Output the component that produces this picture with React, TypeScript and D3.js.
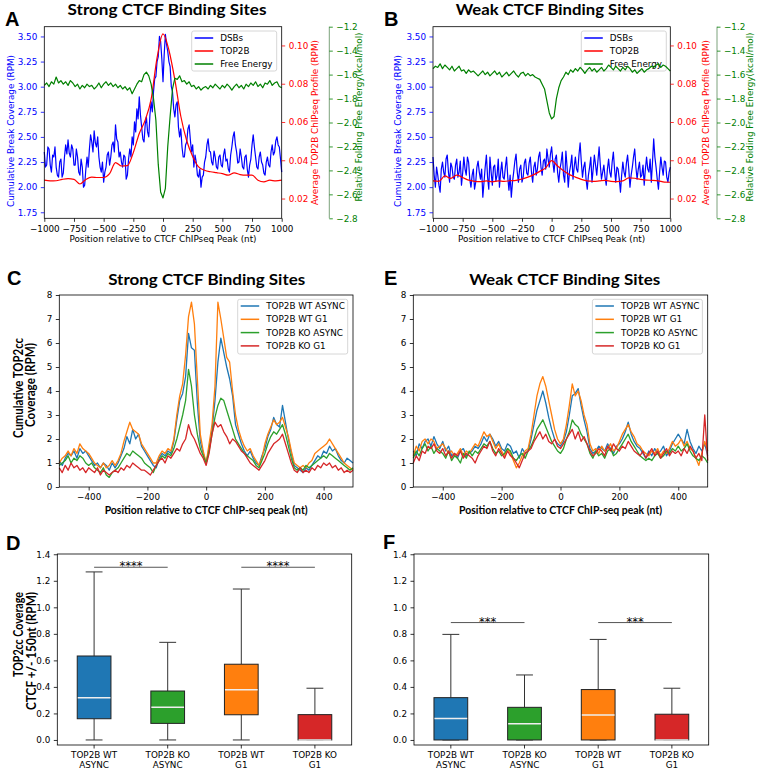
import React, { useEffect, useRef } from 'react';
import * as d3 from 'd3';

const W = 764;
const H = 777;

const MPL = "'DejaVu Sans', sans-serif";
const HEAD = "Lato, 'Open Sans', sans-serif";
const LETTER = "'Liberation Sans', Arial, sans-serif";

// ---- A / B : profiles around CTCF peaks
const profilePos = d3.range(-1000, 1001, 20);
const breakPos = d3.range(-1000, 1001, 10);
const chipPos = d3.range(-1000, 1001, 50);

const dsbStrong = [
  2.35, 2.20, 2.22, 2.40, 2.38, 2.22, 2.15, 2.32, 2.30, 2.40, 2.20, 2.12, 2.10, 2.25, 2.28, 2.10, 2.14, 2.30, 2.42, 2.33,
  2.47, 2.34, 2.30, 2.42, 2.38, 2.22, 2.22, 2.38, 2.30, 2.15, 2.12, 2.28, 2.20, 2.00, 2.02, 2.18, 2.30, 2.20, 2.38, 2.52,
  2.45, 2.35, 2.56, 2.44, 2.40, 2.50, 2.30, 2.20, 2.15, 2.25, 2.05, 2.15, 2.20, 2.32, 2.35, 2.22, 2.30, 2.42, 2.45, 2.35,
  2.62, 2.48, 2.45, 2.30, 2.35, 2.25, 2.20, 2.32, 2.30, 2.08, 2.12, 2.28, 2.38, 2.30, 2.50, 2.42, 2.65, 2.55, 2.78, 2.68,
  2.90, 2.72, 2.60, 2.48, 2.45, 2.62, 2.70, 2.55, 2.50, 2.72, 2.85, 2.75, 2.95, 3.08, 3.10, 3.25, 3.30, 3.50, 3.45, 3.28,
  3.05, 3.32, 3.52, 3.42, 3.35, 3.25, 3.20, 3.00, 2.95, 2.78, 2.70, 2.82, 2.85, 2.60, 2.50, 2.58, 2.40, 2.30, 2.30, 2.42,
  2.45, 2.58, 2.62, 2.48, 2.35, 2.42, 2.20, 2.32, 2.25, 2.12, 2.10, 2.18, 2.00, 2.10, 2.12, 2.25, 2.30, 2.42, 2.48, 2.36,
  2.35, 2.25, 2.22, 2.36, 2.30, 2.20, 2.18, 2.30, 2.32, 2.22, 2.20, 2.32, 2.38, 2.26, 2.28, 2.18, 2.15, 2.32, 2.40, 2.50,
  2.55, 2.42, 2.35, 2.24, 2.25, 2.38, 2.30, 2.20, 2.18, 2.30, 2.32, 2.18, 2.10, 2.22, 2.28, 2.42, 2.52, 2.40, 2.30, 2.20,
  2.18, 2.30, 2.35, 2.25, 2.22, 2.14, 2.12, 2.25, 2.30, 2.22, 2.20, 2.35, 2.42, 2.32, 2.35, 2.46, 2.50, 2.42, 2.40, 2.28,
  2.15,
];
const top2bStrong = [
  0.0296, 0.0292, 0.0293, 0.0300, 0.0304, 0.0300, 0.0276, 0.0300, 0.0312, 0.0310,
  0.0310, 0.0330, 0.0388, 0.0370, 0.0372, 0.0440, 0.0540, 0.0610, 0.0720, 0.0935,
  0.1060, 0.0975, 0.0820, 0.0630, 0.0502, 0.0420, 0.0365, 0.0348, 0.0340, 0.0335,
  0.0330, 0.0322, 0.0334, 0.0325, 0.0322, 0.0322, 0.0296, 0.0287, 0.0296, 0.0292,
  0.0296,
];
const freeEnergyStrong = [
  -1.69, -1.67, -1.70, -1.66, -1.68, -1.62, -1.67, -1.65, -1.68, -1.66,
  -1.69, -1.65, -1.67, -1.70, -1.68, -1.72, -1.69, -1.71, -1.68, -1.70,
  -1.69, -1.72, -1.70, -1.67, -1.71, -1.68, -1.66, -1.69, -1.67, -1.70,
  -1.68, -1.71, -1.69, -1.72, -1.70, -1.73, -1.71, -1.76, -1.72, -1.68,
  -1.65, -1.66, -1.60, -1.58, -1.61, -1.68, -1.80, -1.98, -2.35, -2.58,
  -2.63, -2.55, -2.20, -1.95, -1.72, -1.63, -1.64, -1.61, -1.66, -1.65,
  -1.68, -1.66, -1.70, -1.69, -1.72, -1.70, -1.73, -1.71, -1.70, -1.72,
  -1.69, -1.71, -1.68, -1.70, -1.72, -1.69, -1.71, -1.68, -1.70, -1.73,
  -1.70, -1.68, -1.71, -1.69, -1.72, -1.68, -1.70, -1.67, -1.69, -1.66,
  -1.70, -1.68, -1.71, -1.67, -1.68, -1.65, -1.69, -1.67, -1.66, -1.70,
  -1.71,
];
const dsbWeak = [
  2.30, 2.12, 2.00, 2.20, 2.12, 2.02, 1.95, 2.18, 2.25, 2.15, 2.10, 2.28, 2.32, 2.15, 2.05, 2.24, 2.20, 2.10, 2.08, 2.22,
  2.28, 2.10, 2.15, 2.26, 2.02, 2.14, 2.30, 2.18, 2.12, 2.30, 2.25, 2.08, 2.00, 2.12, 2.18, 1.98, 2.05, 2.20, 2.26, 2.15,
  2.08, 2.18, 1.90, 2.05, 2.20, 2.32, 2.10, 1.98, 2.30, 2.15, 2.02, 2.20, 2.22, 2.06, 2.12, 2.28, 2.00, 2.15, 2.25, 2.10,
  2.08, 2.20, 2.30, 2.10, 1.97, 2.12, 1.90, 2.05, 2.15, 2.26, 2.33, 2.15, 2.05, 2.18, 2.22, 2.05, 2.10, 2.24, 2.28, 2.14,
  2.12, 2.24, 2.30, 2.15, 2.05, 2.20, 2.25, 2.12, 2.18, 2.30, 2.35, 2.20, 2.12, 2.26, 2.28, 2.18, 2.38, 2.28, 2.20, 2.33,
  2.40, 2.25, 2.15, 2.28, 2.32, 2.15, 2.05, 2.18, 2.25, 2.35, 2.12, 2.05, 2.36, 2.20, 2.00, 2.15, 2.22, 2.32, 2.08, 2.20,
  2.30, 2.18, 2.15, 2.32, 2.44, 2.25, 2.10, 2.20, 2.25, 2.08, 1.98, 2.12, 2.20, 2.30, 2.05, 2.18, 2.32, 2.22, 2.12, 2.26,
  2.40, 2.22, 2.08, 2.15, 2.22, 2.10, 2.02, 2.18, 2.28, 2.15, 2.10, 2.25, 2.35, 2.18, 2.05, 2.20, 2.18, 2.08, 1.95, 2.12,
  2.25, 2.15, 2.10, 2.24, 2.32, 2.18, 2.00, 2.12, 2.20, 2.30, 2.38, 2.20, 2.08, 2.18, 2.25, 2.10, 2.12, 2.22, 2.02, 2.18,
  2.30, 2.18, 2.15, 2.28, 2.05, 2.25, 2.48, 2.30, 2.20, 2.08, 1.98, 2.15, 2.30, 2.20, 2.12, 2.26, 2.25, 2.10, 2.05, 2.15,
  2.20,
];
const top2bWeak = [
  0.0292, 0.0290, 0.0318, 0.0305, 0.0322, 0.0310, 0.0296, 0.0290, 0.0288, 0.0292,
  0.0287, 0.0292, 0.0290, 0.0293, 0.0295, 0.0302, 0.0312, 0.0325, 0.0342, 0.0360,
  0.0398, 0.0370, 0.0345, 0.0325, 0.0312, 0.0300, 0.0292, 0.0290, 0.0292, 0.0295,
  0.0290, 0.0288, 0.0292, 0.0308, 0.0306, 0.0300, 0.0296, 0.0295, 0.0292, 0.0286,
  0.0285,
];
const freeEnergyWeak = [
  -1.55, -1.53, -1.54, -1.51, -1.55, -1.52, -1.54, -1.56, -1.53, -1.57,
  -1.55, -1.53, -1.57, -1.56, -1.59, -1.56, -1.58, -1.57, -1.59, -1.61,
  -1.59, -1.57, -1.60, -1.58, -1.61, -1.59, -1.57, -1.60, -1.58, -1.62,
  -1.60, -1.58, -1.61, -1.59, -1.57, -1.60, -1.62, -1.59, -1.58, -1.61,
  -1.59, -1.61, -1.60, -1.62, -1.63, -1.64, -1.68, -1.72, -1.82, -1.92,
  -1.97, -1.95, -1.80, -1.71, -1.65, -1.62, -1.58, -1.60, -1.56, -1.58,
  -1.55, -1.57, -1.54, -1.56, -1.59, -1.56, -1.54, -1.57, -1.55, -1.58,
  -1.56, -1.54, -1.57, -1.55, -1.52, -1.54, -1.56, -1.53, -1.55, -1.57,
  -1.54, -1.56, -1.53, -1.55, -1.58, -1.56, -1.59, -1.57, -1.55, -1.58,
  -1.56, -1.55, -1.53, -1.54, -1.52, -1.51, -1.54, -1.52, -1.53, -1.55,
  -1.57,
];

const profileXTicks = [-1000, -750, -500, -250, 0, 250, 500, 750, 1000];
const breakTicks = [1.75, 2.0, 2.25, 2.5, 2.75, 3.0, 3.25, 3.5];
const chipTicks = [0.02, 0.04, 0.06, 0.08, 0.1];
const energyTicks = [-2.8, -2.6, -2.4, -2.2, -2.0, -1.8, -1.6, -1.4, -1.2];
const profileLegend = ['DSBs', 'TOP2B', 'Free Energy'];
const profileColors = ['#0000ff', '#ff0000', '#008000'];

// ---- C / E : TOP2cc coverage
const top2ccPos = d3.range(-500, 501, 10);
const seriesNames = ['TOP2B WT ASYNC', 'TOP2B WT G1', 'TOP2B KO ASYNC', 'TOP2B KO G1'];
const seriesColors = ['#1f77b4', '#ff7f0e', '#2ca02c', '#d62728'];

const wtAsyncStrong = [
  1.1, 0.9, 1.2, 1.4, 1.3, 1.5, 1.2, 1.6, 1.4, 1.5,
  1.3, 1.1, 0.9, 1.0, 0.8, 1.0, 0.9, 0.7, 1.0, 0.8,
  1.0, 1.3, 1.6, 2.1, 1.8, 2.4, 2.0, 2.2, 1.7, 1.5,
  1.3, 1.1, 0.9, 0.8, 1.2, 1.4, 1.3, 1.5, 1.4, 1.9,
  2.8, 3.6, 3.9, 4.6, 6.4, 5.8, 5.7, 3.5, 1.9, 1.4,
  1.0, 1.6, 2.4, 3.6, 5.2, 6.2, 5.6, 5.0, 4.5, 3.8,
  2.6, 2.2, 1.8, 1.5, 1.3, 1.5, 1.2, 1.0, 0.9, 1.3,
  1.6, 2.1, 2.4, 2.9, 2.6, 2.5, 3.4, 2.7, 2.0, 1.4,
  0.9, 0.8, 0.7, 0.6, 0.8, 0.7, 0.9, 1.1, 1.3, 1.2,
  1.5, 1.4, 1.7, 1.5, 1.6, 1.3, 1.1, 1.0, 1.2, 1.1,
  1.0,
];
const wtG1Strong = [
  1.0, 1.2, 1.3, 1.5, 1.3, 1.6, 1.4, 1.8, 1.6, 1.5,
  1.4, 1.2, 1.0, 0.9, 0.8, 1.0, 0.8, 0.9, 1.1, 0.9,
  1.1, 1.4, 1.9, 2.3, 2.7, 2.4, 2.3, 2.2, 1.8, 1.6,
  1.4, 1.2, 1.0, 1.0, 1.3, 1.5, 1.4, 1.6, 1.5, 2.0,
  3.0, 3.8, 4.3, 5.5, 7.1, 7.7, 6.8, 4.5, 2.2, 1.5,
  1.0, 1.8, 2.6, 4.2, 7.7, 7.0, 6.2, 5.4, 5.2, 4.0,
  3.0, 2.4, 2.0, 1.7, 1.5, 1.6, 1.3, 1.1, 0.9, 1.2,
  1.8, 2.2, 2.5, 2.8, 2.6, 2.7, 2.9, 2.5, 2.1, 1.5,
  1.0, 0.9, 0.8, 0.9, 0.8, 1.0, 1.1, 1.4, 1.5, 1.6,
  1.7, 1.8, 2.0, 1.8, 1.6, 1.4, 1.2, 1.0, 0.9, 0.8,
  0.7,
];
const koAsyncStrong = [
  0.9, 1.0, 1.1, 1.3, 1.0, 1.2, 1.1, 1.3, 1.2, 1.0,
  0.9, 1.0, 0.8, 0.7, 0.6, 0.8, 0.5, 0.4, 0.6, 0.7,
  0.8, 1.0, 1.2, 1.4, 1.3, 1.5, 1.4, 1.3, 1.2, 1.0,
  0.9, 0.8, 0.6, 0.9, 1.1, 1.3, 1.2, 1.4, 1.3, 1.6,
  2.0, 2.5, 3.0, 3.6, 4.9, 4.2, 3.0, 2.2, 1.6, 1.3,
  1.0, 1.5, 2.2, 2.9, 3.4, 3.7, 3.6, 3.2, 2.8, 2.4,
  2.0, 1.8, 1.6, 1.4, 1.3, 1.2, 1.1, 0.9, 0.8, 1.1,
  1.4, 1.8, 2.1, 2.3, 2.2, 2.4, 2.6, 2.2, 1.7, 1.2,
  0.8, 0.7, 0.8, 0.7, 0.9, 0.8, 0.9, 1.0, 1.1, 1.2,
  1.3, 1.2, 1.4, 1.3, 1.2, 1.1, 1.0, 0.9, 0.8, 0.7,
  0.8,
];
const koG1Strong = [
  0.8, 0.6, 0.9, 0.7, 1.0, 0.8, 0.9, 0.7, 0.8, 0.6,
  0.8, 0.7, 0.6, 0.8, 0.5, 0.7, 0.6, 0.5, 0.6, 0.7,
  0.6, 0.8, 0.7, 0.9, 0.8, 1.0, 0.9, 0.8, 0.7, 0.7,
  0.6, 0.5, 0.7, 0.9, 1.1, 1.2, 1.0, 1.3, 1.2, 1.4,
  1.6, 1.5, 1.8, 2.0, 2.6, 2.2, 2.0, 1.7, 1.4, 1.2,
  0.9, 1.4, 2.2, 2.7, 2.5, 2.6, 2.3, 2.1, 1.8, 2.0,
  1.9, 1.7, 1.5, 1.4, 1.2, 1.0, 0.9, 0.8, 0.7, 0.9,
  1.1, 1.4, 1.6, 1.8, 1.9, 2.0, 2.2, 1.8, 1.4, 1.0,
  0.7, 0.6, 0.8, 0.6, 0.7, 0.6, 0.8, 0.7, 0.9, 0.8,
  1.0, 0.9, 1.0, 0.8, 0.9, 0.7, 0.8, 0.6, 0.7, 0.6,
  0.7,
];

const wtAsyncWeak = [
  1.5, 1.3, 1.8, 1.6, 1.9, 2.0, 1.7, 2.1, 1.8, 1.6,
  1.9, 1.5, 1.7, 1.3, 1.4, 1.2, 1.5, 1.6, 1.3, 1.4,
  1.5, 1.7, 1.6, 1.8, 2.1, 1.9, 2.2, 2.0, 1.7, 1.9,
  1.6, 1.5, 1.8, 1.7, 1.4, 1.5, 1.2, 1.6, 1.4, 1.5,
  2.0, 2.6, 3.2, 3.6, 4.0, 3.5, 2.9, 2.4, 2.0, 1.8,
  1.7, 1.9, 2.3, 3.0, 3.8, 3.9, 4.1, 3.4, 2.8, 2.3,
  1.6, 1.4, 1.5, 1.7, 1.6, 1.5, 1.8, 1.6, 1.4, 1.7,
  1.8, 2.0, 2.3, 2.7, 2.2, 1.9, 1.7, 1.6, 1.4, 1.2,
  1.5, 1.3, 1.6, 1.4, 1.5, 1.7, 1.3, 1.5, 1.8, 2.0,
  2.2, 2.0, 1.8, 2.4, 1.9, 1.6, 1.4, 1.7, 1.5, 1.8,
  1.3,
];
const wtG1Weak = [
  1.3, 1.7, 1.5, 1.9, 2.0, 1.8, 2.0, 1.9, 1.6, 1.7,
  1.8, 1.6, 1.4, 1.5, 1.3, 1.4, 1.6, 1.3, 1.5, 1.4,
  1.6, 1.8, 1.7, 2.0, 2.3, 2.1, 2.2, 1.9, 1.6, 1.8,
  1.5, 1.3, 1.6, 1.4, 1.1, 0.8, 1.0, 1.3, 1.5, 1.6,
  2.2, 3.0, 3.8, 4.3, 4.6, 4.2, 3.6, 3.0, 2.4, 2.0,
  1.8, 2.0, 2.6, 3.4, 4.3, 3.8, 4.0, 3.6, 3.0, 2.6,
  1.8, 1.5, 1.6, 1.4, 1.7, 1.5, 1.6, 1.8, 1.5, 1.6,
  1.9, 2.2, 2.4, 2.6, 2.3, 2.1, 1.8, 1.7, 1.5, 1.4,
  1.3, 1.5, 1.4, 1.6, 1.3, 1.5, 1.4, 1.6, 1.9, 1.7,
  1.8, 2.0, 1.7, 1.9, 1.6, 1.5, 1.2, 0.9, 1.4, 1.9,
  1.5,
];
const koAsyncWeak = [
  1.2, 1.5, 1.3, 1.6, 1.8, 1.5, 1.7, 1.4, 1.6, 1.5,
  1.4, 1.2, 1.5, 1.1, 1.3, 1.2, 1.0, 1.4, 1.2, 1.5,
  1.3, 1.5, 1.4, 1.6, 1.8, 1.7, 1.9, 1.6, 1.4, 1.5,
  1.3, 1.4, 1.6, 1.5, 1.2, 1.1, 1.3, 1.4, 1.2, 1.5,
  1.7, 2.0, 2.4, 2.6, 2.8, 2.5, 2.2, 1.9, 1.7, 1.5,
  1.4, 1.6, 2.0, 2.3, 2.8, 2.6, 2.5, 2.2, 2.0, 1.8,
  1.4, 1.2, 1.5, 1.3, 1.4, 1.2, 1.5, 1.6, 1.3, 1.4,
  1.6, 1.8, 2.0, 2.2, 1.9, 1.7, 1.5, 1.3, 1.2, 1.1,
  1.2, 1.1, 1.3, 1.4, 1.2, 1.3, 1.5, 1.4, 1.6, 1.5,
  1.7, 1.5, 1.6, 1.8, 1.5, 1.3, 1.2, 1.1, 1.3, 1.2,
  1.0,
];
const koG1Weak = [
  1.0, 1.3, 1.1, 1.5, 1.4, 1.7, 1.6, 1.8, 1.5, 1.4,
  1.6, 1.3, 1.5, 1.2, 1.4, 1.3, 1.5, 1.2, 1.4, 1.3,
  1.2, 1.0, 1.3, 1.5, 1.7, 1.6, 1.9, 1.5, 1.3, 1.6,
  1.4, 1.2, 1.5, 1.3, 1.2, 1.0, 0.8, 1.1, 1.4, 1.5,
  1.6, 1.9, 2.1, 2.3, 2.0, 2.2, 1.9, 1.8, 2.0, 1.7,
  1.6, 1.8, 2.0, 2.2, 2.4, 2.0, 2.3, 1.9, 2.1, 1.8,
  1.5, 1.3, 1.4, 1.6, 1.5, 1.3, 1.7, 1.5, 1.8, 1.6,
  1.5, 1.7, 1.6, 1.9, 1.7, 1.5, 1.4, 1.3, 1.5, 1.2,
  1.4, 1.6, 1.3, 1.5, 1.2, 1.4, 1.6, 1.3, 1.5, 1.4,
  1.5, 1.3, 1.6, 1.4, 1.7, 1.5, 1.2, 1.4, 1.1, 3.0,
  1.1,
];

const top2ccXTicks = [-400, -200, 0, 200, 400];
const top2ccYTicks = [0, 1, 2, 3, 4, 5, 6, 7, 8];

// ---- D / F : box plots of coverage within +/- 150 nt
const boxGroups = ['WT ASYNC', 'KO ASYNC', 'WT G1', 'KO G1'];
const boxTickLines = [['TOP2B WT', 'ASYNC'], ['TOP2B KO', 'ASYNC'], ['TOP2B WT', 'G1'], ['TOP2B KO', 'G1']];
const boxColors = ['#1f77b4', '#2ca02c', '#ff7f0e', '#d62728'];
const strongLow = [0, 0, 0, 0];
const strongQ1 = [0.16, 0.125, 0.19, 0];
const strongMedian = [0.318, 0.246, 0.378, 0];
const strongQ3 = [0.633, 0.369, 0.571, 0.191];
const strongHigh = [1.267, 0.736, 1.138, 0.39];
const weakLow = [0, 0, 0, 0];
const weakQ1 = [0, 0, 0, 0];
const weakMedian = [0.162, 0.123, 0.189, 0];
const weakQ3 = [0.319, 0.246, 0.38, 0.194];
const weakHigh = [0.796, 0.49, 0.758, 0.39];
const boxYTicks = [0, 0.2, 0.4, 0.6, 0.8, 1.0, 1.2, 1.4];

function tidyAxis(a: any, color: string) {
  a.attr('font-family', MPL).attr('font-size', 8.8);
  a.select('.domain').remove();
  a.selectAll('.tick line').attr('stroke', color).attr('stroke-width', 0.8);
  a.selectAll('.tick text').attr('fill', color);
}

function frame(g: any, l: number, r: number, t: number, b: number) {
  g.append('rect')
    .attr('x', l).attr('y', t)
    .attr('width', r - l).attr('height', b - t)
    .attr('fill', 'none').attr('stroke', '#000').attr('stroke-width', 0.8);
}

function legend(g: any, bx: number, by: number, bw: number, bh: number,
                labels: string[], colors: string[], row0: number, step: number) {
  g.append('rect')
    .attr('x', bx).attr('y', by).attr('width', bw).attr('height', bh)
    .attr('rx', 2).attr('fill', '#fff').attr('fill-opacity', 0.8)
    .attr('stroke', '#ccc').attr('stroke-width', 0.8);
  labels.forEach((lab, i) => {
    const yy = by + row0 + i * step;
    g.append('line')
      .attr('x1', bx + 3).attr('x2', bx + 21.5).attr('y1', yy).attr('y2', yy)
      .attr('stroke', colors[i]).attr('stroke-width', 1.5);
    g.append('text')
      .attr('x', bx + 28.5).attr('y', yy).attr('dy', '0.35em')
      .attr('font-family', MPL).attr('font-size', 8.8).attr('fill', '#000')
      .text(lab);
  });
}

function vText(g: any, x: number, y: number, txt: string, opts: any) {
  const t = g.append('text')
    .attr('transform', `translate(${x},${y}) rotate(-90)`)
    .attr('text-anchor', opts.anchor || 'middle')
    .attr('font-family', opts.font).attr('font-size', opts.size)
    .attr('font-weight', opts.weight || 'normal')
    .attr('fill', opts.color || '#000')
    .text(txt);
  if (opts.len) t.attr('textLength', opts.len).attr('lengthAdjust', 'spacingAndGlyphs');
  return t;
}

function hText(g: any, x: number, y: number, txt: string, opts: any) {
  const t = g.append('text')
    .attr('x', x).attr('y', y)
    .attr('text-anchor', opts.anchor || 'middle')
    .attr('font-family', opts.font).attr('font-size', opts.size)
    .attr('font-weight', opts.weight || 'normal')
    .attr('fill', opts.color || '#000')
    .text(txt);
  if (opts.len) t.attr('textLength', opts.len).attr('lengthAdjust', 'spacingAndGlyphs');
  return t;
}

function drawProfile(svg: any, p: any) {
  const { left, right, top, bottom, spineX } = p;
  const g = svg.append('g');
  const x = d3.scaleLinear().domain([-1000, 1000]).range([left, right]);
  const yBreak = d3.scaleLinear().domain([1.69, 3.597]).range([bottom, top]);
  const yChip = d3.scaleLinear().domain([0.00967, 0.1098]).range([bottom, top]);
  const yEnergy = d3.scaleLinear().domain([-2.8, -1.2]).range([bottom, top]);

  g.append('path').datum(p.dsb)
    .attr('fill', 'none').attr('stroke', profileColors[0]).attr('stroke-width', 1.2)
    .attr('stroke-linejoin', 'round')
    .attr('d', d3.line<number>().x((_, i) => x(breakPos[i])).y(d => yBreak(d)));

  legend(g, p.legendX, 31, 85, 40, profileLegend, profileColors, 7, 13);

  g.append('path').datum(p.top2b)
    .attr('fill', 'none').attr('stroke', profileColors[1]).attr('stroke-width', 1.2)
    .attr('d', d3.line<number>().x((_, i) => x(chipPos[i])).y(d => yChip(d)).curve(d3.curveMonotoneX));

  g.append('path').datum(p.energy)
    .attr('fill', 'none').attr('stroke', profileColors[2]).attr('stroke-width', 1.2)
    .attr('stroke-linejoin', 'round')
    .attr('d', d3.line<number>().x((_, i) => x(profilePos[i])).y(d => yEnergy(d)));

  frame(g, left, right, top, bottom);

  const ax = g.append('g').attr('transform', `translate(0,${bottom})`)
    .call(d3.axisBottom(x).tickValues(profileXTicks).tickFormat(d3.format('d')).tickSize(3.5).tickPadding(3.5));
  tidyAxis(ax, '#000');

  const ay = g.append('g').attr('transform', `translate(${left},0)`)
    .call(d3.axisLeft(yBreak).tickValues(breakTicks).tickFormat(d3.format('.2f')).tickSize(3.5).tickPadding(3.5));
  tidyAxis(ay, '#0000ff');

  const ar = g.append('g').attr('transform', `translate(${right},0)`)
    .call(d3.axisRight(yChip).tickValues(chipTicks).tickFormat(d3.format('.2f')).tickSize(3.5).tickPadding(3.5));
  tidyAxis(ar, '#ff0000');

  g.append('line').attr('x1', spineX).attr('x2', spineX).attr('y1', top).attr('y2', bottom)
    .attr('stroke', '#5b8a5b').attr('stroke-width', 0.8);
  const ag = g.append('g').attr('transform', `translate(${spineX},0)`)
    .call(d3.axisRight(yEnergy).tickValues(energyTicks).tickFormat(d3.format('.1f')).tickSize(3.5).tickPadding(3.5));
  tidyAxis(ag, '#008000');

  hText(g, (left + right) / 2, 241.5, 'Position relative to CTCF ChIPseq Peak (nt)', { font: MPL, size: 8.8 });
  vText(g, p.blueLabelX, 131, 'Cumulative Break Coverage (RPM)', { font: MPL, size: 8.8, color: '#0000ff' });
  vText(g, p.redLabelX, 122.5, 'Average TOP2B ChIPseq Profile (RPM)', { font: MPL, size: 8.8, color: '#ff0000' });
  vText(g, p.greenLabelX, 117, 'Relative Folding Free Energy(kcal/mol)', { font: MPL, size: 8.8, color: '#008000' });

  hText(g, p.titleX, 15, p.title, { font: HEAD, size: 15.5, weight: 'bold', len: p.titleLen });
  hText(g, p.letterX, 26, p.letter, { font: LETTER, size: 20, weight: 'bold', anchor: 'start' });
}

function drawTop2cc(svg: any, p: any) {
  const { left, right } = p;
  const top = 295;
  const bottom = 487;
  const g = svg.append('g');
  const x = d3.scaleLinear().domain([-500, 500]).range([left, right]);
  const y = d3.scaleLinear().domain([0, 8]).range([bottom, top]);

  p.series.forEach((s: number[], i: number) => {
    g.append('path').datum(s)
      .attr('fill', 'none').attr('stroke', seriesColors[i]).attr('stroke-width', 1.3)
      .attr('stroke-linejoin', 'round')
      .attr('d', d3.line<number>().x((_, k) => x(top2ccPos[k])).y(d => y(d)));
  });

  legend(g, right - 115.3, 299.3, 110, 54.7, seriesNames, seriesColors, 6.7, 13.3);
  frame(g, left, right, top, bottom);

  const ax = g.append('g').attr('transform', `translate(0,${bottom})`)
    .call(d3.axisBottom(x).tickValues(top2ccXTicks).tickFormat(d3.format('d')).tickSize(3.5).tickPadding(3.5));
  tidyAxis(ax, '#000');
  const ay = g.append('g').attr('transform', `translate(${left},0)`)
    .call(d3.axisLeft(y).tickValues(top2ccYTicks).tickFormat(d3.format('d')).tickSize(3.5).tickPadding(3.5));
  tidyAxis(ay, '#000');

  hText(g, (left + right) / 2, 513.5, 'Position relative to CTCF ChIP-seq peak (nt)',
    { font: HEAD, size: 12, weight: 'bold', len: 203 });
  hText(g, p.titleX, 285, p.title, { font: HEAD, size: 16, weight: 'bold', len: p.titleLen });
  hText(g, p.letterX, 285, p.letter, { font: LETTER, size: 20, weight: 'bold', anchor: 'start' });
}

function drawBoxes(svg: any, p: any) {
  const { left, right } = p;
  const top = 554;
  const bottom = 745;
  const g = svg.append('g');
  const x = d3.scaleBand().domain(boxGroups).range([left, right]).paddingInner(0.542).paddingOuter(0.271);
  const y = d3.scaleLinear().domain([-0.038, 1.402]).range([bottom, top]);
  const bw = x.bandwidth();

  boxGroups.forEach((grp, i) => {
    const x0 = x(grp) as number;
    const cx = x0 + bw / 2;
    g.append('line').attr('x1', cx).attr('x2', cx).attr('y1', y(p.q3[i])).attr('y2', y(p.high[i]))
      .attr('stroke', '#333').attr('stroke-width', 1);
    g.append('line').attr('x1', cx).attr('x2', cx).attr('y1', y(p.q1[i])).attr('y2', y(p.low[i]))
      .attr('stroke', '#333').attr('stroke-width', 1);
    [p.high[i], p.low[i]].forEach((v: number) => {
      g.append('line').attr('x1', cx - bw / 4).attr('x2', cx + bw / 4).attr('y1', y(v)).attr('y2', y(v))
        .attr('stroke', '#333').attr('stroke-width', 1);
    });
    g.append('rect')
      .attr('x', x0).attr('y', y(p.q3[i]))
      .attr('width', bw).attr('height', y(p.q1[i]) - y(p.q3[i]))
      .attr('fill', boxColors[i]).attr('stroke', '#222').attr('stroke-width', 1);
    g.append('line').attr('x1', x0 + 0.5).attr('x2', x0 + bw - 0.5)
      .attr('y1', y(p.median[i])).attr('y2', y(p.median[i]))
      .attr('stroke', '#eeeeee').attr('stroke-width', 1.5);
  });

  // significance bars
  p.sig.forEach((s: any) => {
    const x1 = (x(boxGroups[s.a]) as number) + bw / 2;
    const x2 = (x(boxGroups[s.b]) as number) + bw / 2;
    g.append('line').attr('x1', x1).attr('x2', x2).attr('y1', y(s.level)).attr('y2', y(s.level))
      .attr('stroke', '#555').attr('stroke-width', 1);
    hText(g, (x1 + x2) / 2, y(s.level) + 3.2, s.label, { font: MPL, size: 11.5 });
  });

  frame(g, left, right, top, bottom);

  const ax = g.append('g').attr('transform', `translate(0,${bottom})`)
    .call(d3.axisBottom(x).tickSize(3.5).tickPadding(3.5).tickFormat(() => ''));
  tidyAxis(ax, '#000');
  boxGroups.forEach((grp, i) => {
    const cx = (x(grp) as number) + bw / 2;
    hText(g, cx, 757.7, boxTickLines[i][0], { font: MPL, size: 8.8 });
    hText(g, cx, 768.3, boxTickLines[i][1], { font: MPL, size: 8.8 });
  });
  const ay = g.append('g').attr('transform', `translate(${left},0)`)
    .call(d3.axisLeft(y).tickValues(boxYTicks).tickFormat(d3.format('.1f')).tickSize(3.5).tickPadding(3.5));
  tidyAxis(ay, '#000');

  hText(g, p.letterX, p.letterY, p.letter, { font: LETTER, size: 20, weight: 'bold', anchor: 'start' });
}

const App: React.FC = () => {
  const svgRef = useRef<SVGSVGElement>(null);

  useEffect(() => {
    if (!svgRef.current) return;
    const svg = d3.select(svgRef.current);
    svg.selectAll('*').remove();

    svg.append('rect').attr('width', W).attr('height', H).attr('fill', '#fff');

    drawProfile(svg, {
      left: 44.3, right: 281.7, top: 26.7, bottom: 218.3, spineX: 329.3,
      dsb: dsbStrong, top2b: top2bStrong, energy: freeEnergyStrong,
      legendX: 191.7, blueLabelX: 13.5, redLabelX: 318, greenLabelX: 361.5,
      title: 'Strong CTCF Binding Sites', titleX: 167, titleLen: 199, letter: 'A', letterX: 5,
    });
    drawProfile(svg, {
      left: 433, right: 670.3, top: 26.7, bottom: 218.3, spineX: 717,
      dsb: dsbWeak, top2b: top2bWeak, energy: freeEnergyWeak,
      legendX: 581.3, blueLabelX: 400.5, redLabelX: 708.5, greenLabelX: 753,
      title: 'Weak CTCF Binding Sites', titleX: 549.8, titleLen: 188, letter: 'B', letterX: 384,
    });

    drawTop2cc(svg, {
      left: 59.3, right: 353,
      series: [wtAsyncStrong, wtG1Strong, koAsyncStrong, koG1Strong],
      title: 'Strong CTCF Binding Sites', titleX: 206.7, titleLen: 197, letter: 'C', letterX: 7,
    });
    drawTop2cc(svg, {
      left: 413.3, right: 707.7,
      series: [wtAsyncWeak, wtG1Weak, koAsyncWeak, koG1Weak],
      title: 'Weak CTCF Binding Sites', titleX: 564.8, titleLen: 191, letter: 'E', letterX: 384,
    });
    // y label of C
    vText(svg, 23, 388, 'Cumulative TOP2cc', { font: HEAD, size: 13, weight: 'bold', len: 100 });
    vText(svg, 34.5, 385, 'Coverage (RPM)', { font: HEAD, size: 13, weight: 'bold', len: 84 });

    drawBoxes(svg, {
      left: 57.3, right: 351.7,
      low: strongLow, q1: strongQ1, median: strongMedian, q3: strongQ3, high: strongHigh,
      sig: [{ a: 0, b: 1, level: 1.302, label: '****' }, { a: 2, b: 3, level: 1.302, label: '****' }],
      letter: 'D', letterX: 6, letterY: 550,
    });
    drawBoxes(svg, {
      left: 414, right: 708.7,
      low: weakLow, q1: weakQ1, median: weakMedian, q3: weakQ3, high: weakHigh,
      sig: [{ a: 0, b: 1, level: 0.885, label: '***' }, { a: 2, b: 3, level: 0.885, label: '***' }],
      letter: 'F', letterX: 383, letterY: 549,
    });
    // y label of D
    vText(svg, 22.5, 592, 'TOP2cc Coverage', { font: HEAD, size: 13, weight: 'bold', anchor: 'end', len: 85 });
    vText(svg, 35.5, 592, 'CTCF +/- 150nt (RPM)', { font: HEAD, size: 13, weight: 'bold', anchor: 'end', len: 118 });
  }, []);

  return (
    <svg
      ref={svgRef}
      width={W}
      height={H}
      style={{ position: 'absolute', left: 0, top: 0, display: 'block' }}
    />
  );
};

export default App;
